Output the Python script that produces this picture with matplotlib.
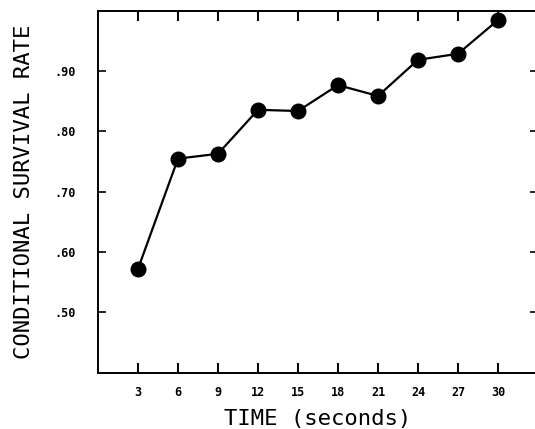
import matplotlib
matplotlib.use("Agg")
import matplotlib.pyplot as plt

# conditional survival rate by elapsed time
time_s = [3, 6, 9, 12, 15, 18, 21, 24, 27, 30]
survival = [0.572, 0.755, 0.763, 0.836, 0.834, 0.877, 0.859, 0.919, 0.929, 0.985]

y_ticks = [0.50, 0.60, 0.70, 0.80, 0.90]
y_tick_labels = [".50", ".60", ".70", ".80", ".90"]

MONO = "DejaVu Sans Mono"

fig = plt.figure(figsize=(5.35, 4.29), dpi=100)
ax = fig.add_axes([98 / 535, 56.5 / 429, 440 / 535, 361.5 / 429])

ax.plot(time_s, survival, '-', color='black', linewidth=1.6,
        marker='o', markersize=10.5, markerfacecolor='black', markeredgecolor='black')

ax.set_xlim(0, 33)
ax.set_ylim(0.40, 1.00)

ax.set_xticks(time_s)
ax.set_xticklabels([str(t) for t in time_s], fontfamily=MONO, fontweight='bold', fontsize=8.5)
ax.set_yticks(y_ticks)
ax.set_yticklabels(y_tick_labels, fontfamily=MONO, fontweight='bold', fontsize=8.5)

ax.tick_params(axis='x', direction='in', top=True, bottom=True, length=7, width=1.4, pad=10)
ax.tick_params(axis='y', direction='in', left=True, right=True, length=6, width=1.2, pad=16)

for spine in ax.spines.values():
    spine.set_linewidth(1.4)

ax.set_xlabel("TIME (seconds)", fontfamily=MONO, fontsize=16, labelpad=7)
ax.set_ylabel("CONDITIONAL SURVIVAL RATE", fontfamily=MONO, fontsize=16, labelpad=15)

fig.savefig("out.png", dpi=100)
